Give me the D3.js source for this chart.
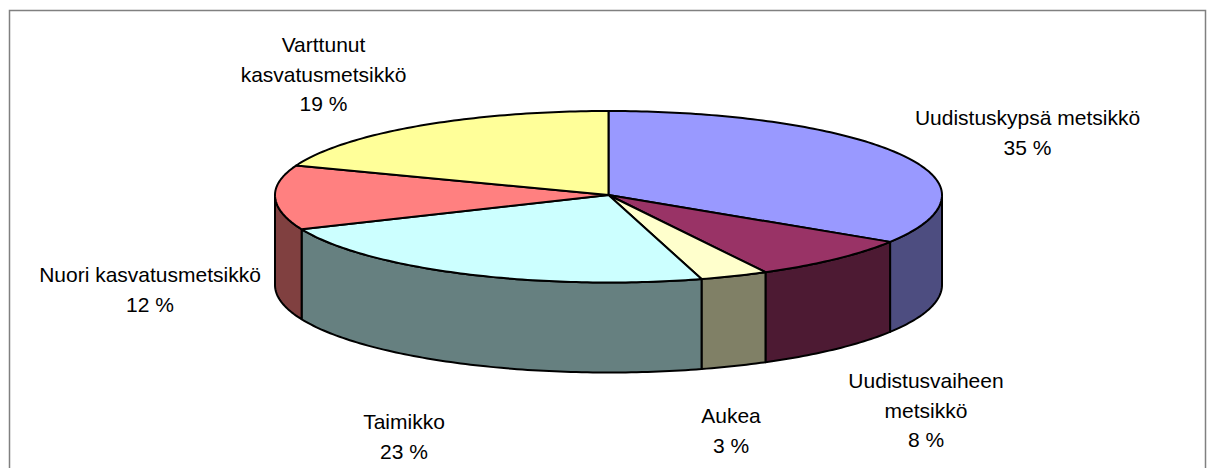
<!DOCTYPE html>
<html>
<head>
<meta charset="utf-8">
<script src="https://cdnjs.cloudflare.com/ajax/libs/d3/7.8.5/d3.min.js"></script>
<style>
body { margin: 0; background: #fff; }
svg { display: block; }
text { font-family: "Liberation Sans", Arial, sans-serif; font-size: 21px; fill: #000; }
</style>
</head>
<body>
<svg id="chart" width="1215" height="468"></svg>
<script>
const categories = ['Uudistuskypsä metsikkö', 'Uudistusvaiheen metsikkö', 'Aukea', 'Taimikko', 'Nuori kasvatusmetsikkö', 'Varttunut kasvatusmetsikkö'];
const sliceValues = [34.0, 8.2, 3.3, 23.1, 12.1, 19.3];
const percentLabels = ['35 %', '8 %', '3 %', '23 %', '12 %', '19 %'];
const topColors = ['#9999ff', '#993366', '#ffffcc', '#ccffff', '#ff8080', '#ffff99'];
const sideColors = ['#4d4d80', '#4d1a33', '#808066', '#668080', '#804040', '#808050'];
const labelLines = [['Uudistuskypsä metsikkö'], ['Uudistusvaiheen', 'metsikkö'], ['Aukea'], ['Taimikko'], ['Nuori kasvatusmetsikkö'], ['Varttunut', 'kasvatusmetsikkö']];
const labelCenters = [[1027.5, 125], [926, 388], [731, 423], [404, 429], [150, 282], [323.5, 52]];

const svg = d3.select('#chart');
const cx = 608.5, cy = 195, rx = 333.5, ryBack = 84, ryFront = 87.5, depth = 90;
const lineHeight = 29.5;

// chart frame, only the top and left edges show in the crop
svg.append('path')
    .attr('d', 'M9.5,468V10.5H1205.5V468')
    .attr('fill', 'none')
    .attr('stroke', '#808080')
    .attr('stroke-width', 1.5);

const pie = d3.pie().sort(null).value(d => d);
const arcs = pie(sliceValues);

function px(a) { return cx + rx * Math.sin(a); }
function py(a) {
    const c = Math.cos(a);
    return cy - (c > 0 ? ryBack : ryFront) * c;
}

const line = d3.line().x(d => d[0]).y(d => d[1]);

function arcPoints(a0, a1, dy) {
    const n = Math.max(2, Math.ceil((a1 - a0) * 60));
    return d3.range(n + 1).map(i => {
        const a = a0 + (a1 - a0) * i / n;
        return [px(a), py(a) + dy];
    });
}

// side wall, only the front half of the ellipse
const frontStart = Math.PI / 2, frontEnd = Math.PI * 1.5;
arcs.forEach((d, i) => {
    const a0 = Math.max(d.startAngle, frontStart);
    const a1 = Math.min(d.endAngle, frontEnd);
    if (a1 <= a0) return;
    const pts = arcPoints(a0, a1, 0).concat(arcPoints(a0, a1, depth).reverse());
    svg.append('path')
        .attr('d', line(pts) + 'Z')
        .attr('fill', sideColors[i])
        .attr('stroke', '#000')
        .attr('stroke-width', 2)
        .attr('stroke-linejoin', 'round');
});

// top face
svg.selectAll('.slice')
    .data(arcs)
    .enter().append('path')
    .attr('class', 'slice')
    .attr('d', d => line([[cx, cy]].concat(arcPoints(d.startAngle, d.endAngle, 0))) + 'Z')
    .attr('fill', (d, i) => topColors[i])
    .attr('stroke', '#000')
    .attr('stroke-width', 2)
    .attr('stroke-linejoin', 'round');

// labels
categories.forEach((c, i) => {
    const lines = labelLines[i].concat(percentLabels[i]);
    const t = svg.append('text')
        .attr('text-anchor', 'middle')
        .attr('x', labelCenters[i][0])
        .attr('y', labelCenters[i][1]);
    lines.forEach((s, j) => {
        t.append('tspan')
            .attr('x', labelCenters[i][0])
            .attr('dy', j === 0 ? 0 : lineHeight)
            .text(s);
    });
});
</script>
</body>
</html>
